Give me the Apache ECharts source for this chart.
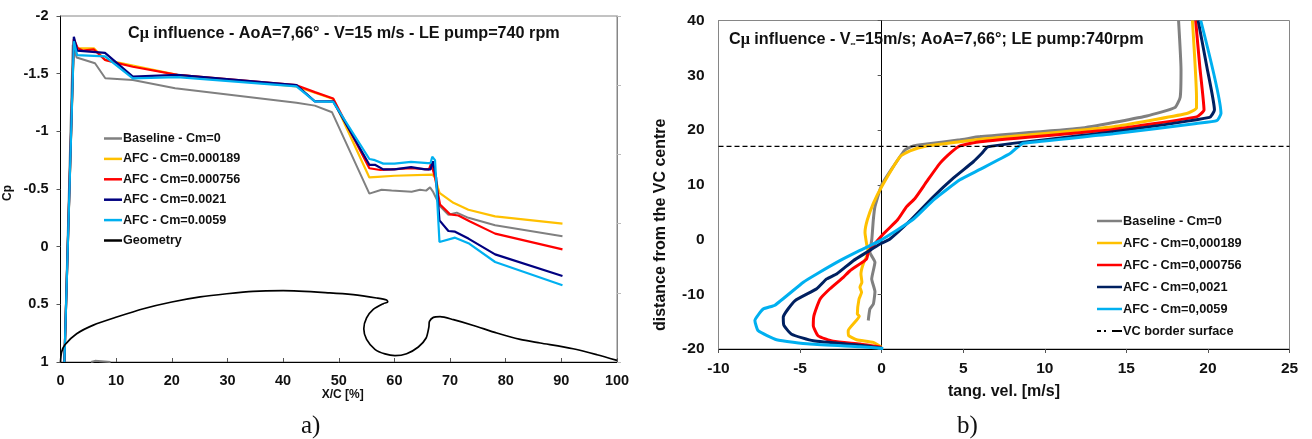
<!DOCTYPE html>
<html><head><meta charset="utf-8">
<style>html,body{margin:0;padding:0;background:#fff}#c{width:1312px;height:439px}</style>
<script src="https://cdn.jsdelivr.net/npm/echarts@6/dist/echarts.min.js"></script>
</head><body><div id="c"></div>
<script>
// a) Cp distribution [x %, Cp]
const cpBaseline=[[9,1],[6.2,0.99],[5.5,1],[null,null],[0.7,1],[2.2,-1.75],[2.9,-1.64],[6.2,-1.59],[8.05,-1.46],[13,-1.445],[20.6,-1.373],[42.4,-1.247],[45.7,-1.223],[48.8,-1.165],[55.5,-0.46],[57.7,-0.494],[59.5,-0.487],[63.1,-0.477],[64.6,-0.494],[65.7,-0.486],[66.4,-0.514],[66.9,-0.48],[68.2,-0.35],[69.7,-0.277],[71.2,-0.295],[73.3,-0.25],[78.1,-0.185],[90.2,-0.09]];
const cpC189=[[0.7,1],[2.4,-1.78],[3,-1.72],[6,-1.72],[8,-1.62],[13,-1.57],[21,-1.49],[42.4,-1.39],[49,-1.28],[55.5,-0.6],[57,-0.605],[60,-0.615],[66.8,-0.625],[67.3,-0.6],[68.1,-0.466],[70.6,-0.38],[73.3,-0.32],[78.1,-0.263],[90.2,-0.2]];
const cpC756=[[0.7,1],[2.4,-1.8],[3.1,-1.72],[4,-1.7],[6,-1.71],[8,-1.62],[9.5,-1.6],[13,-1.56],[21,-1.49],[42.4,-1.4],[45.7,-1.34],[49,-1.285],[55.5,-0.68],[57.5,-0.665],[59.5,-0.67],[63,-0.68],[66.2,-0.67],[66.6,-0.72],[67.3,-0.6],[68.2,-0.365],[70,-0.28],[71.5,-0.27],[73.5,-0.22],[78.1,-0.113],[90.2,0.023]];
const cpC21=[[0.7,1],[2.4,-1.82],[3,-1.7],[8,-1.68],[13,-1.475],[21,-1.49],[42.4,-1.4],[45.7,-1.26],[49,-1.26],[55.5,-0.71],[56.5,-0.71],[58,-0.67],[60,-0.67],[63,-0.69],[65.5,-0.67],[66.5,-0.67],[66.9,-0.74],[67.5,-0.6],[68.1,-0.228],[69.7,-0.136],[70.9,-0.13],[73.3,-0.07],[78.1,0.067],[90.2,0.254]];
const cpC59=[[0.7,1],[2.4,-1.78],[3,-1.66],[8,-1.65],[13,-1.46],[21,-1.47],[42.4,-1.39],[45.7,-1.26],[49,-1.255],[55.5,-0.76],[56.5,-0.75],[58,-0.72],[60,-0.72],[63,-0.735],[66,-0.725],[66.5,-0.725],[66.8,-0.78],[67.3,-0.75],[68.1,-0.04],[70.9,-0.078],[73.3,-0.03],[78.1,0.133],[90.2,0.335]];
const geometry=[[0,1],[0.2,0.913],[0.8,0.85],[2.9,0.755],[5.9,0.68],[10.1,0.61],[14.9,0.538],[20,0.48],[25.1,0.436],[29.9,0.408],[34.6,0.387],[40,0.382],[48.4,0.4],[52.6,0.416],[56.8,0.445],[58.6,0.462],[58.8,0.48],[58,0.494],[56.2,0.544],[55,0.618],[54.5,0.711],[55,0.804],[56.5,0.89],[58.3,0.93],[60.1,0.945],[62.2,0.928],[64.3,0.87],[65.7,0.792],[66.2,0.696],[66.3,0.648],[67,0.613],[68.2,0.607],[70.6,0.633],[74.2,0.683],[78.4,0.749],[82.6,0.804],[86.2,0.835],[92.1,0.885],[96.4,0.937],[100,0.986]];
// b) velocity profile [tang. vel., distance]
const velBaseline=[[18.2,40],[18.35,31],[18.3,26],[17.98,24.1],[16.25,22.56],[12.16,20.3],[6.03,18.8],[4.8,18.2],[2.76,17.44],[1.94,17.1],[1.43,16.35],[0.71,13.3],[0,9.95],[-0.41,6],[-0.51,3.6],[-0.6,0.09],[-0.72,-2.34],[-0.41,-4.17],[-0.61,-7.2],[-0.41,-9.5],[-0.51,-11.8],[-0.72,-12.7],[-0.82,-14.8]];
const velC189=[[19.05,40],[19.3,26],[19.3,24],[18.7,23],[14.2,20.6],[6.03,18.3],[4.8,17.87],[2.76,17.08],[1.74,16.2],[1.12,15.1],[0,9.65],[-0.51,6.6],[-0.88,3.56],[-1.02,1.3],[-0.92,-0.82],[-0.82,-2.34],[-1.13,-4.47],[-1.27,-6.3],[-1.21,-7.8],[-1.33,-8.7],[-1.23,-9.65],[-1.39,-10.9],[-1.49,-13.6],[-1.37,-14],[-2.05,-16.65],[-2.02,-17.56],[-1.53,-18.3],[-0.51,-18.8],[0,-19.7]];
const velC756=[[19.25,40],[19.5,31.6],[19.76,23.65],[19.3,22.4],[14.2,20.1],[6.03,17.87],[4.8,17.1],[4.29,16],[3.57,13.9],[2.76,10.56],[2.04,7.5],[1.53,6],[0.98,3.6],[0.1,1],[-0.82,-2.34],[-0.92,-3.56],[-1.94,-5.7],[-2.35,-6.9],[-3.17,-9],[-3.78,-10.9],[-4.15,-13.9],[-4.19,-15.7],[-3.89,-17.6],[-2.97,-18.6],[-1.33,-19.1],[0,-19.7]];
const velC21=[[19.4,40],[19.93,31.6],[20.4,23.65],[20.1,22.3],[14.2,19.7],[6.52,16.95],[6.13,15.7],[5.62,14.2],[4.39,11.2],[3.17,7.8],[1.8,3.6],[0.51,0.09],[-0.1,-0.82],[-0.92,-2.34],[-1.74,-3.87],[-2.76,-6.3],[-3.37,-7.2],[-3.98,-9],[-5.32,-11.2],[-6.03,-14.2],[-5.99,-15.7],[-5.52,-17.3],[-4.19,-18.5],[-1.33,-19.3],[0,-19.8]];
const velC59=[[19.56,40],[20.8,23],[20.54,21.7],[19.3,21.2],[14.2,19.3],[8.67,17.6],[8.37,16.95],[7.87,15.7],[6.03,12.8],[4.8,10.9],[3.17,7.2],[1.9,3.6],[-0.1,-0.2],[-1.33,-2],[-2.56,-3.87],[-3.98,-6.3],[-4.8,-7.8],[-6.54,-12],[-7.26,-12.7],[-7.77,-14.8],[-7.57,-16.65],[-6.44,-18.3],[-4.4,-19.1],[-1.33,-19.6],[0.1,-19.9]];
const vcBorder=[[-10,17],[25,17]];
const namesA=['Baseline - Cm=0','AFC - Cm=0.000189','AFC - Cm=0.000756','AFC - Cm=0.0021','AFC - Cm=0.0059','Geometry'];
const namesB=['Baseline - Cm=0','AFC - Cm=0,000189','AFC - Cm=0,000756','AFC - Cm=0,0021','AFC - Cm=0,0059','VC border surface'];
const titleA='influence - AoA=7,66° - V=15 m/s - LE pump=740 rpm';

const F='"Liberation Sans"';
const ink='#111', frame='#868686';
const colA=['#808080','#FFC000','#FF0000','#000080','#00B0F0','#000000'];
const colB=['#808080','#FFC000','#FF0000','#002060','#00B0F0','#000000'];
const line=(name,data,color,w,xi,yi,smooth,extra)=>Object.assign({type:'line',name,data,xAxisIndex:xi,yAxisIndex:yi,showSymbol:false,symbol:'none',smooth:smooth,silent:true,lineStyle:{color,width:w},itemStyle:{color}},extra||{});
const txt=(size,o)=>Object.assign({fontFamily:F,fontWeight:'bold',fontSize:size,color:ink},o||{});
const legend=(data,left,top,gap,size,iw)=>({orient:'vertical',left,top,data,icon:'rect',itemWidth:iw,itemHeight:2.5,itemGap:gap,selectedMode:false,padding:0,textStyle:txt(size,{padding:[0,0,0,-4],lineHeight:14,height:14})});

const option={
 animation:false,
 grid:[{left:60.5,top:16,width:556.5,height:346,show:true,borderColor:frame,borderWidth:1,backgroundColor:'transparent'},
       {left:718.5,top:20.5,width:571,height:328.5,show:true,borderColor:frame,borderWidth:1,backgroundColor:'transparent'}],
 xAxis:[
  {gridIndex:0,type:'value',min:0,max:100,interval:10,position:'bottom',splitLine:{show:false},
   axisLine:{onZero:false,lineStyle:{color:'#000',width:1}},axisTick:{inside:true,length:4,lineStyle:{color:'#555'}},
   axisLabel:{...txt(14.5),margin:11,showMinLabel:true,showMaxLabel:true},
   name:'X/C [%]',nameLocation:'middle',nameGap:27,nameMoveOverlap:false,nameTextStyle:txt(12,{padding:[0,0,0,8]})},
  {gridIndex:1,type:'value',min:-10,max:25,interval:5,position:'bottom',splitLine:{show:false},
   axisLine:{onZero:false,lineStyle:{color:'#000',width:1}},axisTick:{length:4,lineStyle:{color:'#555'}},
   axisLabel:{...txt(15.5),margin:12,showMinLabel:true,showMaxLabel:true},
   name:'tang. vel. [m/s]',nameLocation:'middle',nameGap:35,nameMoveOverlap:false,nameTextStyle:txt(16)}
 ],
 yAxis:[
  {gridIndex:0,type:'value',min:-2,max:1,interval:0.5,inverse:true,position:'left',splitLine:{show:false},
   axisLine:{onZero:false,lineStyle:{color:'#000',width:1}},axisTick:{length:4,lineStyle:{color:'#555'}},
   axisLabel:{...txt(14.5),margin:12,showMinLabel:true,showMaxLabel:true},
   name:'Cp',nameLocation:'middle',nameGap:47,nameMoveOverlap:false,nameTextStyle:txt(12,{padding:[0,8,0,0]})},
  {gridIndex:0,type:'value',min:0,max:5,interval:1,position:'right',splitLine:{show:false},
   axisLine:{onZero:false,lineStyle:{color:frame,width:1}},axisTick:{length:4,lineStyle:{color:'#bbb'}},axisLabel:{show:false}},
  {gridIndex:1,type:'value',min:-20,max:40,interval:10,position:'left',splitLine:{show:false},
   axisLine:{onZero:false,lineStyle:{color:frame,width:1}},axisTick:{show:false},
   axisLabel:{...txt(15.5),margin:14,showMinLabel:true,showMaxLabel:true},
   name:'distance from the VC centre',nameLocation:'middle',nameGap:50,nameMoveOverlap:false,nameTextStyle:txt(16,{padding:[0,80,0,0]})},
  {gridIndex:1,type:'value',min:-20,max:40,interval:10,position:'left',splitLine:{show:false},
   axisLine:{show:true,onZero:true,lineStyle:{color:'#000',width:1}},axisTick:{show:true,length:4,lineStyle:{color:'#555'}},axisLabel:{show:false}}
 ],
 legend:[legend(namesA,104,131.5,6.4,12.6,18),legend(namesB,1097,214,8,12.75,25)],
 title:[
  {left:128,top:26,padding:0,text:'{a|C}{m|μ}{a| '+titleA+'}',textStyle:{rich:{a:txt(16.2),m:txt(16.2,{fontFamily:'"Liberation Serif"'})}}},
  {left:729,top:32,padding:0,text:'{a|C}{m|μ}{a| influence - V}{s|∞}{a|=15m/s; AoA=7,66°; LE pump:740rpm}',textStyle:{rich:{a:txt(16.2),m:txt(16.2,{fontFamily:'"Liberation Serif"'}),s:txt(7,{verticalAlign:'bottom'})}}},
  {left:301,top:414,padding:0,text:'a)',textStyle:{fontFamily:'"Liberation Serif"',fontSize:25,fontWeight:'normal',color:'#111'}},
  {left:957,top:414,padding:0,text:'b)',textStyle:{fontFamily:'"Liberation Serif"',fontSize:25,fontWeight:'normal',color:'#111'}}
 ],
 series:[
  line(namesA[0],cpBaseline,colA[0],2,0,0,false),
  line(namesA[1],cpC189,colA[1],2.2,0,0,false),
  line(namesA[2],cpC756,colA[2],2.2,0,0,false),
  line(namesA[3],cpC21,colA[3],2.2,0,0,false),
  line(namesA[4],cpC59,colA[4],2.2,0,0,false),
  line(namesA[5],geometry,colA[5],1.7,0,0,0.25),
  line(namesB[0],velBaseline,colB[0],3,1,2,0.15),
  line(namesB[1],velC189,colB[1],3,1,2,0.15),
  line(namesB[2],velC756,colB[2],3,1,2,0.15),
  line(namesB[3],velC21,colB[3],3,1,2,0.15),
  line(namesB[4],velC59,colB[4],3,1,2,0.15),
  line(namesB[5],vcBorder,colB[5],1.3,1,2,false,{lineStyle:{color:colB[5],width:1.3,type:[5,3]}})
 ]
};
option.legend[1].data=namesB.map(n=>n==='VC border surface'?{name:n,icon:'path://M0,0h4v2h-4zM7,0h2v2h-2zM15,0h10v2h-10z'}:n);
echarts.init(document.getElementById('c'),null,{renderer:'canvas'}).setOption(option);
</script></body></html>
